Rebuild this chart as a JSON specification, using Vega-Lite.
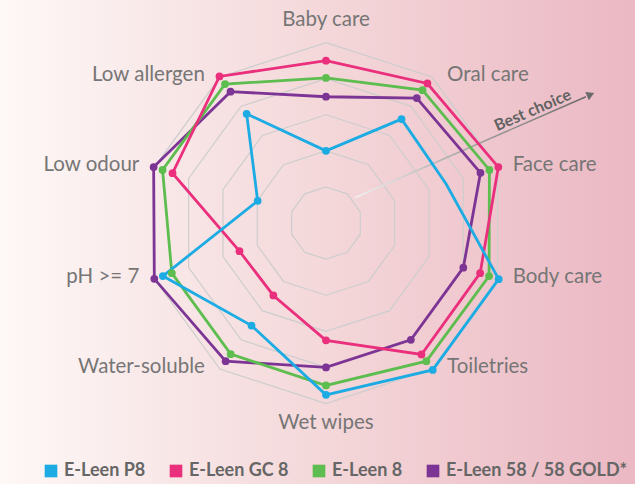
{
  "$schema": "https://vega.github.io/schema/vega-lite/v6.json",
  "width": 635,
  "height": 484,
  "padding": 0,
  "autosize": {"type": "none"},
  "background": "#fbf1f1",
  "resolve": {"legend": {"color": "independent"}},
  "config": {
    "view": {
      "stroke": null,
      "fill": {
        "gradient": "linear",
        "x1": 0, "y1": 0, "x2": 1, "y2": 0,
        "stops": [
          {"offset": 0, "color": "#fef8f7"},
          {"offset": 0.5, "color": "#f4d8da"},
          {"offset": 1, "color": "#ebb8c3"}
        ]
      }
    },
    "font": "Lato",
    "point": {"size": 60},
    "legend": {
      "orient": "none",
      "legendX": 42,
      "legendY": 462,
      "direction": "horizontal",
      "symbolType": "square",
      "symbolSize": 160,
      "symbolStrokeWidth": 0,
      "labelFont": "Lato",
      "labelFontWeight": "bold",
      "labelFontSize": 18,
      "labelColor": "#666666",
      "labelOffset": 4,
      "labelLimit": 400,
      "columnPadding": 21,
      "padding": 0,
      "title": null
    }
  },
  "datasets": {
    "axes": [
      {"axis": "Baby care", "k": 0, "levels": [1, 2, 3, 4, 5]},
      {"axis": "Oral care", "k": 1, "levels": [1, 2, 3, 4, 5]},
      {"axis": "Face care", "k": 2, "levels": [1, 2, 3, 4, 5]},
      {"axis": "Body care", "k": 3, "levels": [1, 2, 3, 4, 5]},
      {"axis": "Toiletries", "k": 4, "levels": [1, 2, 3, 4, 5]},
      {"axis": "Wet wipes", "k": 5, "levels": [1, 2, 3, 4, 5]},
      {"axis": "Water-soluble", "k": 6, "levels": [1, 2, 3, 4, 5]},
      {"axis": "pH >= 7", "k": 7, "levels": [1, 2, 3, 4, 5]},
      {"axis": "Low odour", "k": 8, "levels": [1, 2, 3, 4, 5]},
      {"axis": "Low allergen", "k": 9, "levels": [1, 2, 3, 4, 5]}
    ],
    "scores": [
      {"series": "E-Leen 58 / 58 GOLD*", "axis": "Baby care", "k": 0, "v": 3.5},
      {"series": "E-Leen 58 / 58 GOLD*", "axis": "Oral care", "k": 1, "v": 4.28},
      {"series": "E-Leen 58 / 58 GOLD*", "axis": "Face care", "k": 2, "v": 4.5},
      {"series": "E-Leen 58 / 58 GOLD*", "axis": "Body care", "k": 3, "v": 4.0},
      {"series": "E-Leen 58 / 58 GOLD*", "axis": "Toiletries", "k": 4, "v": 4.0},
      {"series": "E-Leen 58 / 58 GOLD*", "axis": "Wet wipes", "k": 5, "v": 4.0},
      {"series": "E-Leen 58 / 58 GOLD*", "axis": "Water-soluble", "k": 6, "v": 4.73},
      {"series": "E-Leen 58 / 58 GOLD*", "axis": "pH >= 7", "k": 7, "v": 5.0},
      {"series": "E-Leen 58 / 58 GOLD*", "axis": "Low odour", "k": 8, "v": 5.02},
      {"series": "E-Leen 58 / 58 GOLD*", "axis": "Low allergen", "k": 9, "v": 4.5},
      {"series": "E-Leen 8", "axis": "Baby care", "k": 0, "v": 4.02},
      {"series": "E-Leen 8", "axis": "Oral care", "k": 1, "v": 4.55},
      {"series": "E-Leen 8", "axis": "Face care", "k": 2, "v": 4.76},
      {"series": "E-Leen 8", "axis": "Body care", "k": 3, "v": 4.75},
      {"series": "E-Leen 8", "axis": "Toiletries", "k": 4, "v": 4.73},
      {"series": "E-Leen 8", "axis": "Wet wipes", "k": 5, "v": 4.5},
      {"series": "E-Leen 8", "axis": "Water-soluble", "k": 6, "v": 4.49},
      {"series": "E-Leen 8", "axis": "pH >= 7", "k": 7, "v": 4.49},
      {"series": "E-Leen 8", "axis": "Low odour", "k": 8, "v": 4.76},
      {"series": "E-Leen 8", "axis": "Low allergen", "k": 9, "v": 4.76},
      {"series": "E-Leen GC 8", "axis": "Baby care", "k": 0, "v": 4.5},
      {"series": "E-Leen GC 8", "axis": "Oral care", "k": 1, "v": 4.78},
      {"series": "E-Leen GC 8", "axis": "Face care", "k": 2, "v": 5.02},
      {"series": "E-Leen GC 8", "axis": "Body care", "k": 3, "v": 4.49},
      {"series": "E-Leen GC 8", "axis": "Toiletries", "k": 4, "v": 4.5},
      {"series": "E-Leen GC 8", "axis": "Wet wipes", "k": 5, "v": 3.25},
      {"series": "E-Leen GC 8", "axis": "Water-soluble", "k": 6, "v": 2.48},
      {"series": "E-Leen GC 8", "axis": "pH >= 7", "k": 7, "v": 2.52},
      {"series": "E-Leen GC 8", "axis": "Low odour", "k": 8, "v": 4.47},
      {"series": "E-Leen GC 8", "axis": "Low allergen", "k": 9, "v": 5.02},
      {"series": "E-Leen P8", "axis": "Baby care", "k": 0, "v": 2.0},
      {"series": "E-Leen P8", "axis": "Oral care", "k": 1, "v": 3.56},
      {"series": "E-Leen P8", "axis": "Face care", "k": 2, "v": 3.5},
      {"series": "E-Leen P8", "axis": "Body care", "k": 3, "v": 5.03},
      {"series": "E-Leen P8", "axis": "Toiletries", "k": 4, "v": 5.03},
      {"series": "E-Leen P8", "axis": "Wet wipes", "k": 5, "v": 4.76},
      {"series": "E-Leen P8", "axis": "Water-soluble", "k": 6, "v": 3.51},
      {"series": "E-Leen P8", "axis": "pH >= 7", "k": 7, "v": 4.75},
      {"series": "E-Leen P8", "axis": "Low odour", "k": 8, "v": 1.99},
      {"series": "E-Leen P8", "axis": "Low allergen", "k": 9, "v": 3.74}
    ]
  },
  "layer": [
    {
      "data": {"name": "axes"},
      "transform": [
        {"flatten": ["levels"], "as": ["level"]},
        {"calculate": "datum.k * PI / 5", "as": "t"},
        {"calculate": "datum.level * sin(datum.t)", "as": "px"},
        {"calculate": "datum.level * cos(datum.t)", "as": "py"}
      ],
      "mark": {"type": "line", "interpolate": "linear-closed", "stroke": "#cdcdcd", "strokeWidth": 1.2},
      "encoding": {
        "x": {"field": "px", "type": "quantitative", "scale": {"domain": [-9.03, 8.56], "nice": false, "zero": false}, "axis": null},
        "y": {"field": "py", "type": "quantitative", "scale": {"domain": [-7.23, 6.18], "nice": false, "zero": false}, "axis": null},
        "detail": {"field": "level", "type": "nominal"},
        "order": {"field": "k", "type": "quantitative"}
      }
    },
    {
      "data": {"values": [{"note": "Best choice"}]},
      "mark": {
        "type": "rule",
        "strokeWidth": 1.5,
        "stroke": {
          "gradient": "linear",
          "x1": 0, "y1": 0, "x2": 1, "y2": 0,
          "stops": [
            {"offset": 0, "color": "#f2f2f2"},
            {"offset": 0.4, "color": "#b0b0b0"},
            {"offset": 1, "color": "#6a6a6a"}
          ]
        }
      },
      "encoding": {
        "x": {"datum": 0.8, "type": "quantitative"},
        "y": {"datum": 0.7, "type": "quantitative"},
        "x2": {"datum": 7.2},
        "y2": {"datum": 3.5}
      }
    },
    {
      "data": {"values": [{"note": "Best choice"}]},
      "mark": {"type": "point", "shape": "triangle-right", "filled": true, "color": "#6a6a6a", "size": 80, "angle": -23.5, "opacity": 1},
      "encoding": {
        "x": {"datum": 7.33, "type": "quantitative"},
        "y": {"datum": 3.56, "type": "quantitative"}
      }
    },
    {
      "data": {"values": [{"note": "Best choice"}]},
      "mark": {"type": "text", "angle": -23.5, "font": "Lato", "fontWeight": "bold", "fontSize": 16, "color": "#626262", "align": "center", "baseline": "middle"},
      "encoding": {
        "x": {"datum": 5.73, "type": "quantitative"},
        "y": {"datum": 3.12, "type": "quantitative"},
        "text": {"field": "note"}
      }
    },
    {
      "data": {"name": "scores"},
      "transform": [
        {"calculate": "datum.k * PI / 5", "as": "t"},
        {"calculate": "datum.v * sin(datum.t)", "as": "px"},
        {"calculate": "datum.v * cos(datum.t)", "as": "py"}
      ],
      "mark": {"type": "line", "interpolate": "linear-closed", "strokeWidth": 2.8},
      "encoding": {
        "x": {"field": "px", "type": "quantitative"},
        "y": {"field": "py", "type": "quantitative"},
        "color": {
          "field": "series", "type": "nominal",
          "scale": {
            "domain": ["E-Leen P8", "E-Leen GC 8", "E-Leen 8", "E-Leen 58 / 58 GOLD*"],
            "range": ["#1cace3", "#ea2f7c", "#5dbd4f", "#7c3594"]
          },
          "legend": null
        },
        "order": {"field": "k", "type": "quantitative"}
      }
    },
    {
      "data": {"name": "scores"},
      "transform": [
        {"filter": "!(datum.series == 'E-Leen P8' && datum.k == 2)"},
        {"calculate": "datum.k * PI / 5", "as": "t"},
        {"calculate": "datum.v * sin(datum.t)", "as": "px"},
        {"calculate": "datum.v * cos(datum.t)", "as": "py"}
      ],
      "mark": {"type": "point", "filled": true, "opacity": 1},
      "encoding": {
        "x": {"field": "px", "type": "quantitative"},
        "y": {"field": "py", "type": "quantitative"},
        "color": {
          "field": "series", "type": "nominal",
          "scale": {
            "domain": ["E-Leen P8", "E-Leen GC 8", "E-Leen 8", "E-Leen 58 / 58 GOLD*"],
            "range": ["#1cace3", "#ea2f7c", "#5dbd4f", "#7c3594"]
          },
          "legend": {"symbolSize": 160}
        }
      }
    },
    {
      "data": {"name": "axes"},
      "transform": [
        {"filter": "datum.k == 0"},
        {"calculate": "datum.k * PI / 5", "as": "t"},
        {"calculate": "5 * sin(datum.t)", "as": "px"},
        {"calculate": "5 * cos(datum.t)", "as": "py"}
      ],
      "mark": {"type": "text", "font": "Lato", "fontSize": 20.5, "color": "#767676", "align": "center", "baseline": "middle", "dy": -23},
      "encoding": {
        "x": {"field": "px", "type": "quantitative"},
        "y": {"field": "py", "type": "quantitative"},
        "text": {"field": "axis"}
      }
    },
    {
      "data": {"name": "axes"},
      "transform": [
        {"filter": "datum.k == 5"},
        {"calculate": "datum.k * PI / 5", "as": "t"},
        {"calculate": "5 * sin(datum.t)", "as": "px"},
        {"calculate": "5 * cos(datum.t)", "as": "py"}
      ],
      "mark": {"type": "text", "font": "Lato", "fontSize": 20.5, "color": "#767676", "align": "center", "baseline": "middle", "dy": 19},
      "encoding": {
        "x": {"field": "px", "type": "quantitative"},
        "y": {"field": "py", "type": "quantitative"},
        "text": {"field": "axis"}
      }
    },
    {
      "data": {"name": "axes"},
      "transform": [
        {"filter": "datum.k >= 1 && datum.k <= 4"},
        {"calculate": "datum.k * PI / 5", "as": "t"},
        {"calculate": "5 * sin(datum.t)", "as": "px"},
        {"calculate": "5 * cos(datum.t)", "as": "py"}
      ],
      "mark": {"type": "text", "font": "Lato", "fontSize": 20.5, "color": "#767676", "align": "left", "baseline": "middle", "dx": 15, "dy": -2},
      "encoding": {
        "x": {"field": "px", "type": "quantitative"},
        "y": {"field": "py", "type": "quantitative"},
        "text": {"field": "axis"}
      }
    },
    {
      "data": {"name": "axes"},
      "transform": [
        {"filter": "datum.k >= 6"},
        {"calculate": "datum.k * PI / 5", "as": "t"},
        {"calculate": "5 * sin(datum.t)", "as": "px"},
        {"calculate": "5 * cos(datum.t)", "as": "py"}
      ],
      "mark": {"type": "text", "font": "Lato", "fontSize": 20.5, "color": "#767676", "align": "right", "baseline": "middle", "dx": -15, "dy": -2},
      "encoding": {
        "x": {"field": "px", "type": "quantitative"},
        "y": {"field": "py", "type": "quantitative"},
        "text": {"field": "axis"}
      }
    }
  ]
}
